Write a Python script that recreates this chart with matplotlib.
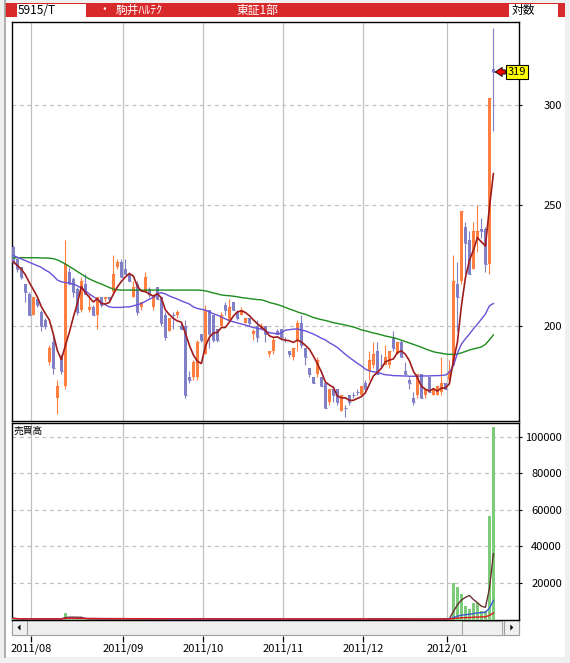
import numpy as np
import pandas as pd
import matplotlib
matplotlib.use('Agg')
import matplotlib.pyplot as plt
from matplotlib.patches import Rectangle, Polygon
from matplotlib.ticker import FixedLocator, NullLocator, NullFormatter

plt.rcParams['font.family'] = ['Noto Sans CJK JP', 'DejaVu Sans']

# header texts
code = '5915/T'
name = '駒井ﾊﾙﾃｸ'
market = '東証1部'
scale_name = '対数'
vol_title = '売買高'

# month labels and index of the first trading day of each month
month_labels = ['2011/08', '2011/09', '2011/10', '2011/11', '2011/12', '2012/01']
month_first = [5, 28, 48, 68, 88, 109]

# daily prices 2011/07/25 - 2012/01/20 (yen)
opens = [231, 226, 223, 216, 212, 204, 210, 205, 202, 187,
         194, 175, 189, 179, 221, 218, 214, 206, 216, 206,
         207, 204, 211, 210, 211, 213, 223, 225, 222, 220,
         211, 216, 207, 213, 214, 207, 215, 211, 204, 198,
         204, 204, 200, 200, 182, 182, 182, 197, 190, 206,
         204, 199, 200, 208, 202, 209, 205, 204, 201, 203,
         197, 200, 199, 200, 190, 191, 198, 199, 195, 191,
         189, 195, 201, 192, 185, 182, 183, 182, 180, 174,
         178, 178, 171, 172, 176, 176, 177, 176, 180, 184,
         186, 191, 186, 186, 186, 196, 190, 194, 184, 181,
         175, 176, 183, 176, 182, 176, 176, 177, 180, 181,
         186, 216, 217, 240, 234, 222, 235, 239, 239, 224,
         321]
highs = [232, 226, 223, 216, 213, 211, 211, 206, 203, 193,
         197, 181, 190, 234, 223, 219, 215, 219, 220, 212,
         208, 211, 211, 211, 211, 228, 226, 226, 226, 221,
         217, 217, 209, 221, 215, 212, 215, 211, 205, 203,
         205, 206, 201, 202, 184, 188, 195, 197, 208, 206,
         204, 199, 205, 209, 210, 209, 206, 207, 203, 203,
         199, 202, 201, 200, 191, 196, 199, 199, 196, 191,
         192, 202, 204, 192, 185, 182, 189, 182, 180, 178,
         179, 178, 176, 173, 176, 177, 178, 179, 181, 191,
         194, 194, 190, 193, 191, 198, 194, 195, 187, 182,
         177, 183, 183, 178, 182, 178, 179, 189, 180, 188,
         228, 225, 247, 242, 238, 242, 250, 244, 240, 304,
         346]
lows = [224, 221, 218, 209, 204, 204, 207, 198, 199, 186,
        183, 170, 183, 178, 216, 211, 204, 205, 212, 205,
        204, 199, 207, 209, 209, 212, 222, 219, 220, 217,
        211, 204, 206, 213, 211, 206, 210, 200, 195, 198,
        199, 203, 199, 175, 180, 181, 181, 194, 190, 192,
        194, 194, 200, 204, 202, 206, 202, 204, 201, 200,
        195, 194, 199, 194, 189, 190, 197, 195, 194, 189,
        188, 191, 192, 186, 182, 180, 182, 179, 172, 173,
        174, 173, 171, 169, 173, 175, 176, 176, 177, 181,
        185, 183, 185, 186, 185, 191, 190, 189, 183, 178,
        173, 175, 175, 175, 177, 176, 176, 176, 178, 180,
        186, 198, 216, 220, 220, 222, 229, 235, 221, 220,
        286]
closes = [225, 222, 219, 213, 204, 211, 208, 200, 200, 192,
          185, 179, 184, 224, 216, 213, 205, 217, 212, 207,
          204, 211, 208, 211, 210, 220, 225, 219, 220, 217,
          215, 205, 209, 219, 212, 211, 210, 201, 196, 203,
          204, 205, 199, 176, 181, 187, 194, 195, 206, 197,
          195, 195, 204, 206, 207, 206, 203, 206, 203, 201,
          198, 196, 200, 197, 191, 195, 197, 196, 195, 190,
          192, 201, 193, 189, 183, 180, 188, 179, 172, 178,
          176, 174, 176, 172, 174, 176, 177, 179, 178, 188,
          190, 183, 186, 189, 191, 192, 194, 189, 183, 180,
          174, 183, 175, 178, 177, 178, 179, 180, 178, 184,
          217, 211, 247, 233, 220, 238, 238, 238, 224, 304,
          319]

# 25-day and 75-day moving averages as drawn
ma25 = [227.6, 226.9, 226.2, 225.5, 224.8, 224.1, 223.4, 222.7, 221.6, 220.7,
        219.3, 217.6, 216.9, 216.6, 216.4, 216.0, 215.3, 214.4, 213.3, 212.1,
        211.0, 210.1, 208.8, 207.9, 207.1, 206.9, 206.9, 206.9, 207.1, 207.1,
        207.5, 207.9, 208.4, 209.2, 210.1, 210.7, 212.1, 212.6, 212.1, 211.3,
        210.7, 210.1, 209.4, 208.8, 208.2, 207.1, 206.5, 206.2, 205.9, 205.2,
        204.5, 204.0, 203.3, 202.6, 201.9, 201.5, 201.1, 200.7, 200.3, 199.8,
        199.4, 199.1, 198.8, 198.2, 197.5, 197.3, 197.0, 197.5, 198.4, 198.6,
        198.8, 198.9, 198.4, 198.2, 197.6, 197.0, 196.3, 195.5, 194.9, 193.9,
        193.1, 192.2, 191.0, 189.8, 188.7, 187.7, 186.7, 185.8, 184.7, 184.1,
        183.8, 183.6, 183.2, 182.8, 182.7, 182.5, 182.5, 182.4, 182.4, 182.3,
        182.3, 182.3, 182.4, 182.4, 182.4, 182.5, 182.5, 182.6, 182.7, 183.6,
        185.8, 190.1, 193.4, 195.3, 197.0, 198.9, 200.6, 202.5, 204.4, 207.5,
        208.4]
ma75 = [226.7, 226.7, 226.7, 226.7, 226.7, 226.7, 226.7, 226.6, 226.6, 226.5,
        226.3, 225.8, 225.0, 224.1, 223.1, 222.1, 221.0, 220.0, 219.0, 218.0,
        217.3, 216.6, 216.0, 215.3, 214.6, 214.0, 213.7, 213.6, 213.6, 213.6,
        213.6, 213.6, 213.6, 213.6, 213.6, 213.6, 213.6, 213.6, 213.6, 213.6,
        213.6, 213.6, 213.6, 213.6, 213.6, 213.6, 213.6, 213.5, 213.3, 212.9,
        212.5, 212.1, 211.7, 211.5, 211.4, 211.2, 211.0, 210.7, 210.5, 210.3,
        210.1, 209.9, 209.8, 209.4, 208.8, 208.4, 208.0, 207.5, 206.9, 206.3,
        205.8, 205.2, 204.7, 204.3, 203.7, 203.1, 202.7, 202.3, 202.0, 201.6,
        201.2, 200.9, 200.6, 200.3, 199.9, 199.6, 199.1, 198.5, 198.2, 197.8,
        197.4, 197.1, 196.7, 196.3, 196.0, 195.7, 195.3, 194.8, 194.3, 193.8,
        193.3, 192.8, 192.3, 191.7, 191.2, 190.7, 190.4, 190.2, 189.9, 189.8,
        189.8, 189.9, 190.3, 190.8, 191.3, 191.7, 192.0, 192.4, 193.3, 194.9,
        196.7]

# volume (shares)
volume = [600, 300, 200, 300, 400, 300, 200, 300, 200, 400,
          300, 500, 300, 3700, 1500, 400, 300, 200, 300, 200,
          300, 200, 100, 200, 300, 400, 200, 300, 200, 200,
          300, 200, 200, 300, 200, 100, 200, 300, 200, 200,
          100, 200, 300, 400, 200, 300, 200, 200, 300, 200,
          200, 100, 200, 200, 300, 200, 100, 200, 100, 200,
          300, 200, 100, 200, 300, 200, 100, 200, 200, 100,
          200, 300, 200, 100, 200, 200, 300, 100, 200, 300,
          200, 100, 200, 300, 200, 100, 200, 100, 200, 800,
          200, 300, 200, 100, 700, 200, 300, 200, 100, 200,
          300, 200, 100, 200, 200, 300, 200, 900, 300, 500,
          20200, 18000, 14100, 7600, 5900, 9200, 9200, 4500, 4500, 56700,
          105000]

W, H = 570, 663
up_col = '#ff7f40'
down_col = '#8080c8'
grid_col = '#c0c0c0'


def box(x0, y0, x1, y1):
    # pixel rectangle -> figure fraction
    return [x0 / W, 1 - y1 / H, (x1 - x0) / W, (y1 - y0) / H]


fig = plt.figure(figsize=(W / 100, H / 100), dpi=100)
fig.patch.set_facecolor('#f0f0f0')

# window chrome
bg = fig.add_axes([0, 0, 1, 1], zorder=0)
bg.set_xlim(0, W)
bg.set_ylim(H, 0)
bg.axis('off')
bg.add_patch(Rectangle((5, 17), 560, 640, fc='white', ec='none'))
bg.plot([5, 5], [0, 657], color='#a0a0a0', lw=1.2)
bg.add_patch(Rectangle((5, 2.5), 560, 14.3, fc='#d82a2a', ec='none'))
bg.add_patch(Rectangle((16.5, 3.5), 69.5, 13, fc='white', ec='none'))
bg.add_patch(Rectangle((509, 3.5), 49, 13, fc='white', ec='none'))
bg.text(17.5, 10, code, fontsize=8.5, color='black', va='center', ha='left')
bg.text(104, 10, '・', fontsize=8.5, color='white', va='center', ha='center')
bg.text(116, 10, name, fontsize=8.5, color='white', va='center', ha='left')
bg.text(237, 10, market, fontsize=8.5, color='white', va='center', ha='left')
bg.text(512, 10, scale_name, fontsize=8.5, color='black', va='center', ha='left')

# scrollbar
bg.add_patch(Rectangle((11.5, 620), 507.5, 15, fc='#eeeeee', ec='#a0a0a0', lw=0.8))
bg.add_patch(Rectangle((11.5, 620), 15.8, 15, fc='#f0f0f0', ec='#a0a0a0', lw=0.8))
bg.add_patch(Rectangle((503.6, 620), 15.4, 15, fc='#f0f0f0', ec='#a0a0a0', lw=0.8))
bg.add_patch(Rectangle((462, 620.5), 40, 14, fc='#f0f0f0', ec='#a8a8a8', lw=0.8))
bg.add_patch(Polygon([(17.5, 627.5), (20.5, 624.5), (20.5, 630.5)], fc='black', ec='none'))
bg.add_patch(Polygon([(513.3, 627.5), (510.3, 624.5), (510.3, 630.5)], fc='black', ec='none'))

x = np.arange(len(closes))
o = np.array(opens, dtype=float)
c = np.array(closes, dtype=float)
up = c > o
body_col = np.where(up, up_col, down_col)
xlim = (-0.45, 126.4)
month_edges = [m - 0.5 for m in month_first]

# price panel
ax = fig.add_axes(box(11.5, 22, 519, 421), zorder=2)
ax.set_facecolor('white')
ax.vlines(x, lows, highs, colors=body_col, lw=0.8, zorder=3)
ax.bar(x, np.abs(c - o), bottom=np.minimum(o, c), width=0.7, color=body_col, lw=0, zorder=3)
ax.hlines(c, x - 0.35, x + 0.35, colors=body_col, lw=0.8, zorder=3)
ma5 = pd.Series(closes).rolling(5, min_periods=1).mean()
ax.plot(x, ma75, color='#1e8c1e', lw=1.0, zorder=4)
ax.plot(x, ma25, color='#6a4fd8', lw=1.0, zorder=4)
ax.plot(x, ma5, color='#a01c1c', lw=1.2, zorder=5)
ax.set_yscale('log')
ax.set_ylim(167.9, 349.7)
ax.set_xlim(*xlim)
ax.yaxis.set_major_locator(FixedLocator([200, 250, 300]))
ax.yaxis.set_minor_locator(NullLocator())
ax.yaxis.set_minor_formatter(NullFormatter())
ax.set_yticklabels(['200', '250', '300'])
ax.yaxis.tick_right()
ax.tick_params(axis='y', direction='out', length=2.5, width=0.8, pad=28.4, labelsize=8)
for lbl in ax.get_yticklabels():
    lbl.set_horizontalalignment('right')
ax.set_xticks(month_edges)
ax.tick_params(axis='x', length=0, labelbottom=False)
ax.xaxis.grid(True, color=grid_col, lw=0.9, ls='-')
ax.yaxis.grid(True, color=grid_col, lw=0.9, ls=(0, (3, 3)))
ax.set_axisbelow(True)
for s in ax.spines.values():
    s.set_color('black')
    s.set_linewidth(1.0)

# last price marker
last = closes[-1]
ax.annotate('', xy=(x[-1], last), xytext=(8.6, 0), textcoords='offset points',
            arrowprops=dict(arrowstyle='simple,head_length=0.5,head_width=0.65,tail_width=0.3',
                            fc='red', ec='black', lw=0.6, shrinkA=0, shrinkB=1.3),
            annotation_clip=False, zorder=6)
ax.annotate(str(last), xy=(x[-1], last), xytext=(16.8, 0), textcoords='offset points',
            ha='center', va='center', fontsize=8,
            bbox=dict(boxstyle='square,pad=0.15', fc='#ffff00', ec='black', lw=0.8),
            annotation_clip=False, zorder=6)

# volume panel
axv = fig.add_axes(box(11.5, 423, 519, 619.5), zorder=2)
axv.set_facecolor('white')
axv.bar(x, volume, width=0.6, color='#7ccc7c', lw=0, zorder=3)
vs = pd.Series(volume, dtype=float)
axv.plot(x, vs.rolling(5, min_periods=1).mean(), color='#6a3030', lw=1.0, zorder=4)
axv.plot(x, vs.rolling(25, min_periods=1).mean(), color='#3c5cd0', lw=1.0, zorder=4)
axv.plot(x, vs.rolling(75, min_periods=1).mean(), color='#e01818', lw=1.0, zorder=4)
axv.set_xlim(*xlim)
axv.set_ylim(0, 107400)
vt = [20000, 40000, 60000, 80000, 100000]
axv.set_yticks(vt)
axv.set_yticklabels([str(v) for v in vt])
axv.yaxis.tick_right()
axv.tick_params(axis='y', direction='out', length=2.5, width=0.8, pad=28.4, labelsize=8)
for lbl in axv.get_yticklabels():
    lbl.set_horizontalalignment('right')
axv.set_xticks(month_edges)
axv.tick_params(axis='x', length=0, labelbottom=False)
axv.xaxis.grid(True, color=grid_col, lw=0.9, ls='-')
axv.yaxis.grid(True, color=grid_col, lw=0.9, ls=(0, (3, 3)))
axv.set_axisbelow(True)
for s in axv.spines.values():
    s.set_color('black')
    s.set_linewidth(1.0)
axv.text(0.004, 0.96, vol_title, transform=axv.transAxes, fontsize=7, va='center', ha='left')

# date row under the scrollbar
axd = fig.add_axes(box(11.5, 635.5, 519, 635.6), zorder=2)
axd.set_xlim(*xlim)
axd.patch.set_visible(False)
for s in axd.spines.values():
    s.set_visible(False)
axd.set_yticks([])
axd.set_xticks(month_edges)
axd.set_xticklabels(month_labels)
axd.tick_params(axis='x', direction='out', length=4.3, width=0.9, pad=1.5, labelsize=8)

fig.savefig('out.png', dpi=100)
